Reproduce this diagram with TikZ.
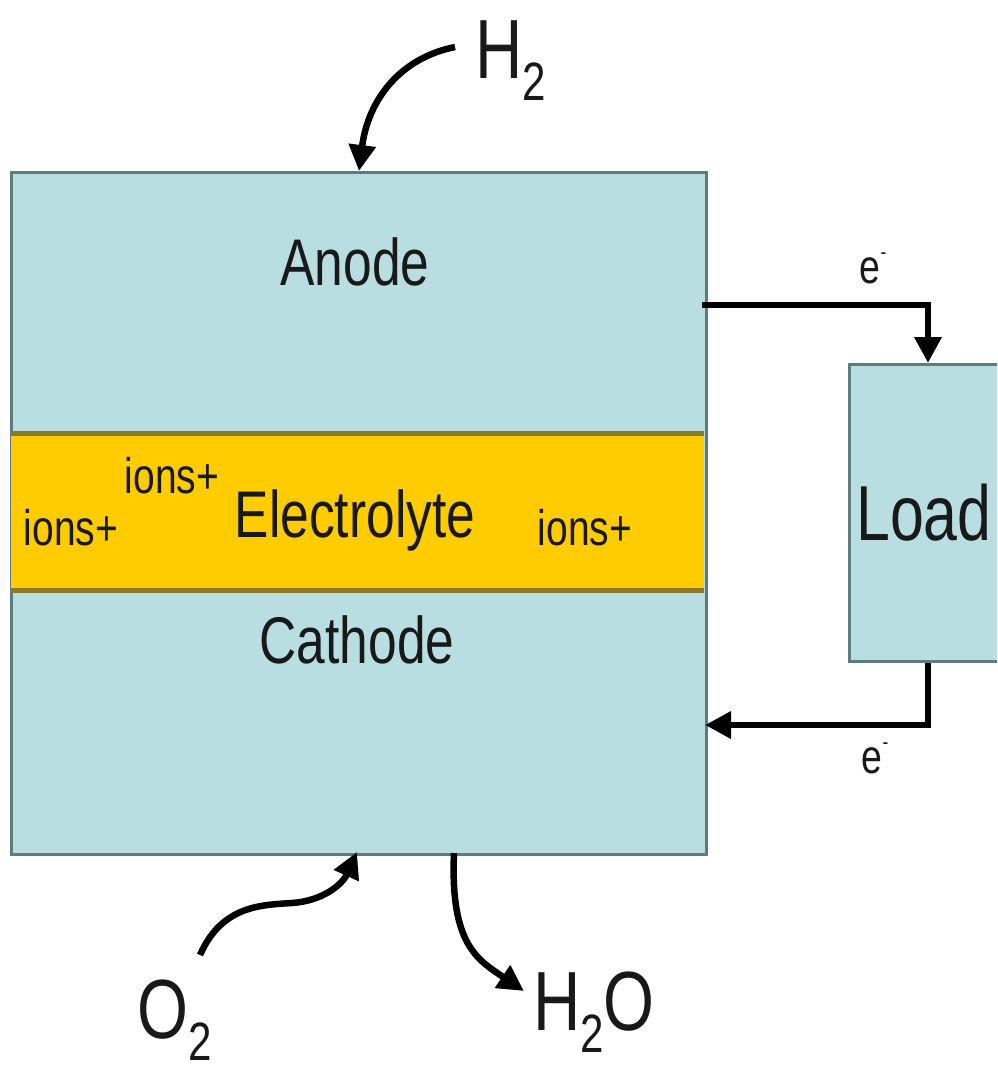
\documentclass[tikz,border=0pt]{standalone}
\usepackage{fontspec}
\setmainfont{Liberation Sans}[FakeStretch=0.78]
\usepackage{xcolor}
\usetikzlibrary{arrows.meta}

\definecolor{cellblue}{HTML}{B8DEE2}
\definecolor{celledge}{HTML}{5E7C7E}
\definecolor{elyteyellow}{HTML}{FFCC00}
\definecolor{elyteedge}{HTML}{8C7A2E}

\newcommand{\chemsub}[1]{\raisebox{-0.27em}{\fontsize{54}{56}\selectfont #1}}
\newcommand{\eminus}{\raisebox{0.5em}{\fontsize{22}{22}\selectfont -}}

\begin{document}
\begin{tikzpicture}[
    x=1pt,
    y=-1pt,
    box/.style={
        rectangle,
        draw=celledge,
        fill=cellblue,
        line width=2.5pt,
        inner sep=0pt
    },
    band/.style={
        rectangle,
        fill=elyteyellow,
        inner sep=0pt
    },
    layer/.style={anchor=base, font=\fontsize{66}{70}\selectfont, text=black!90},
    ion/.style={anchor=base, font=\fontsize{50}{54}\selectfont, text=black!90},
    gas/.style={anchor=base, inner sep=1pt, font=\fontsize{84}{90}\selectfont, text=black!90},
    elec/.style={anchor=base, font=\fontsize{48}{50}\selectfont, text=black!90},
    flow/.style={-{Triangle[length=26pt,width=26pt]}, line width=6.5pt, draw=black}
]

\useasboundingbox[fill=white] (0,0) rectangle (997,1071);
\clip (0,0) rectangle (997,1071);

% cell and load
\node[box, minimum width=695pt, minimum height=682pt, anchor=north west] (cell) at (10,171) {};
\node[band, minimum width=693pt, minimum height=157pt, anchor=north west] (elyte) at (11,433) {};
\draw[elyteedge, line width=5pt] (elyte.north west) -- (elyte.north east);
\draw[elyteedge, line width=5pt] (elyte.south west) -- (elyte.south east);
\node[box, minimum width=170pt, minimum height=297pt, anchor=north west] (load) at (848,363) {};

% labels
\node[layer] (anode) at (355,285) {Anode};
\node[layer] (electrolyte) at (355,537) {Electrolyte};
\node[layer] (cathode) at (357,663) {Cathode};
\node[anchor=base, font=\fontsize{78}{84}\selectfont, text=black!90] (loadtxt) at (924,540) {Load};

\node[ion] (ionleft) at (71,545) {ions+};
\node[ion] (iontop) at (172,493) {ions+};
\node[ion] (ionright) at (585,545) {ions+};

\node[gas] (htwo) at (511,78) {H\chemsub{2}};
\node[gas] (otwo) at (175,1038) {O\chemsub{2}};
\node[gas] (water) at (594,1030) {H\chemsub{2}O};

\node[elec] (eout) at (873,283) {e\eminus};
\node[elec] (ein) at (875,773) {e\eminus};

% connectors
\coordinate (htwostart) at (455,47);
\coordinate (htwoend) at (359,171);
\coordinate (otwostart) at (200,955);
\coordinate (otwoend) at (357,852);
\coordinate (waterstart) at (454,853);
\coordinate (waterend) at (524,991);
\coordinate (anodeout) at (705,305);
\coordinate (cathodein) at (705,725);

\draw[flow] (htwostart) .. controls (400,58) and (368,100) .. (htwoend);
\draw[flow] (otwostart) .. controls (222,905) and (262,905) .. (292,903)
    .. controls (322,901) and (342,885) .. (otwoend);
\draw[flow] (waterstart) .. controls (450,945) and (478,960) .. (waterend);

\draw[flow, line cap=rect] (anodeout) -| (load.north -| 928,0);
\draw[flow] (load.south -| 928,0) |- (cathodein);

\end{tikzpicture}
\end{document}
